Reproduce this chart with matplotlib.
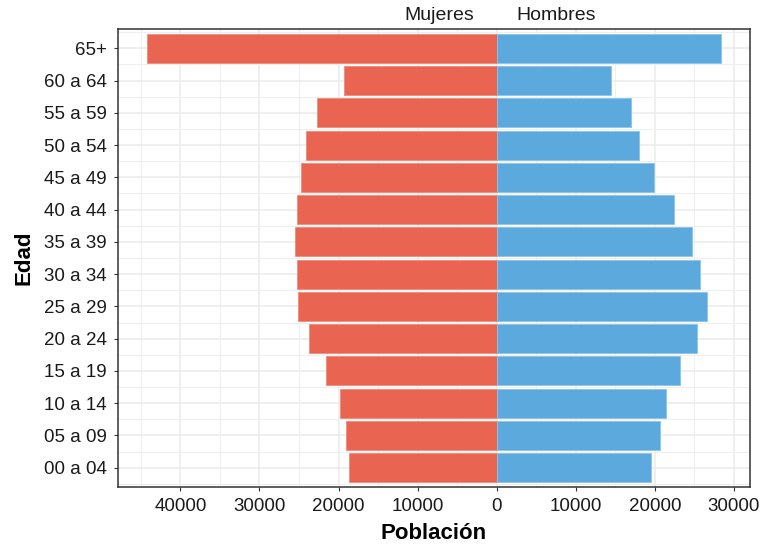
import numpy as np
import matplotlib
matplotlib.use('Agg')
import matplotlib.pyplot as plt
from matplotlib.ticker import MultipleLocator, FuncFormatter

plt.rcParams['font.family'] = ['Liberation Sans', 'DejaVu Sans']

# age groups, bottom to top
edades = ['00 a 04', '05 a 09', '10 a 14', '15 a 19', '20 a 24', '25 a 29', '30 a 34',
          '35 a 39', '40 a 44', '45 a 49', '50 a 54', '55 a 59', '60 a 64', '65+']
mujeres = [18680, 19090, 19850, 21530, 23750, 25130, 25300,
           25560, 25300, 24750, 24130, 22700, 19310, 44250]
hombres = [19470, 20650, 21450, 23120, 25310, 26640, 25720,
           24680, 22450, 19850, 18050, 17010, 14400, 28400]

col_m = '#E96552'
col_h = '#5CA9DD'

fig = plt.figure(figsize=(7.62, 5.48), dpi=100)
ax = fig.add_axes([118 / 762, 61 / 548, 632 / 762, 458 / 548])

y = np.arange(len(edades))
ax.barh(y, [-v for v in mujeres], height=0.9, color=col_m, edgecolor='#F08A7A', linewidth=0.6, zorder=3)
ax.barh(y, hombres, height=0.9, color=col_h, edgecolor='#8CC4EA', linewidth=0.6, zorder=3)

# ggplot-like expansion
lo, hi = -max(mujeres), max(hombres)
pad = 0.05 * (hi - lo)
ax.set_xlim(lo - pad, hi + pad)
ax.set_ylim(-0.6, len(edades) - 0.4)

ax.set_yticks(y)
ax.set_yticklabels(edades)
ax.xaxis.set_major_locator(MultipleLocator(10000))
ax.xaxis.set_minor_locator(MultipleLocator(5000))
ax.yaxis.set_minor_locator(MultipleLocator(0.5))
ax.xaxis.set_major_formatter(FuncFormatter(lambda v, p: f'{abs(int(round(v)))}'))

ax.grid(which='major', color='#EBEBEB', linewidth=1.1, zorder=0)
ax.grid(which='minor', color='#EFEFEF', linewidth=0.8, zorder=0)
ax.set_axisbelow(True)

for s in ax.spines.values():
    s.set_color('#333333')
    s.set_linewidth(1.1)

ax.tick_params(which='major', length=3, color='#333333', labelsize=13.5, labelcolor='#1A1A1A', pad=5)
ax.tick_params(which='minor', length=0)

ax.set_xlabel('Población', fontsize=16, fontweight='bold', labelpad=6)
ax.set_ylabel('Edad', fontsize=16, fontweight='bold', labelpad=7)

tr = ax.get_xaxis_transform()
ax.text(-2800, 1.01, 'Mujeres', transform=tr, ha='right', va='bottom', fontsize=14, color='#1A1A1A')
ax.text(2500, 1.01, 'Hombres', transform=tr, ha='left', va='bottom', fontsize=14, color='#1A1A1A')

fig.savefig('out.png', dpi=100)
